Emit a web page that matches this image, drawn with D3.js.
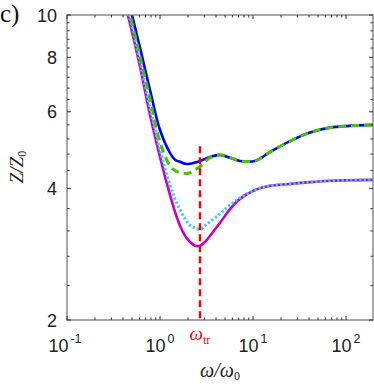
<!DOCTYPE html>
<html>
<head>
<meta charset="utf-8">
<script src="https://cdn.jsdelivr.net/npm/d3@7"></script>
<style>
body { margin: 0; background: #fff; }
svg { display: block; }
</style>
</head>
<body>
<script>
const width = 374, height = 384;

// frequency grid (omega / omega_0), shared by all curves
const omega = [0.45, 0.5, 0.61, 0.78, 1.0, 1.28, 1.45, 1.64, 1.86, 2.1, 2.38, 2.69,
    3.05, 3.45, 4.42, 5.66, 7.25, 10.5, 15.2, 25, 41, 67, 110, 195];

// Z / Z_0
const zBlue = [10.95, 10.0, 8.41, 6.74, 5.45, 4.83, 4.66, 4.61, 4.56, 4.56, 4.59, 4.63,
    4.68, 4.73, 4.78, 4.71, 4.63, 4.63, 4.85, 5.14, 5.38, 5.52, 5.57, 5.60];
const zGreen = [10.5, 9.60, 8.02, 6.43, 5.12, 4.51, 4.40, 4.35, 4.33, 4.35, 4.42, 4.49,
    4.61, 4.71, 4.78, 4.71, 4.63, 4.63, 4.85, 5.14, 5.38, 5.52, 5.57, 5.60];
const zMagenta = [10.0, 9.15, 7.61, 5.91, 4.73, 3.87, 3.54, 3.29, 3.12, 3.02, 2.96, 2.96,
    3.02, 3.12, 3.34, 3.59, 3.79, 3.97, 4.06, 4.10, 4.14, 4.17, 4.18, 4.19];
const zCyan = [10.28, 9.40, 7.81, 6.13, 4.91, 4.08, 3.79, 3.58, 3.41, 3.30, 3.25, 3.23,
    3.29, 3.36, 3.50, 3.67, 3.81, 3.97, 4.06, 4.10, 4.14, 4.17, 4.18, 4.19];

const omegaTr = 2.69;
const trTop = 5.0;

const xDecades = [-1, 0, 1, 2];
const yMajor = [2, 4, 6, 8, 10];

const x = d3.scaleLog().domain([0.1, 195]).range([67, 373]);
const y = d3.scaleLog().domain([2, 10]).range([320, 15]);

const svg = d3.select("body")
    .append("svg")
    .attr("width", width)
    .attr("height", height);

svg.append("clipPath")
    .attr("id", "plot")
    .append("rect")
    .attr("x", 67).attr("y", 15)
    .attr("width", 306).attr("height", 305);

// curves
const line = d3.line()
    .x(d => x(d[0]))
    .y(d => y(d[1]))
    .curve(d3.curveCatmullRom.alpha(0.5));

const series = [
    {z: zMagenta, color: "#c800c8", w: 2.6, dash: null},
    {z: zCyan, color: "#33ccff", w: 3, dash: "2.2,2.2"},
    {z: zBlue, color: "#0000ff", w: 2.6, dash: null},
    {z: zGreen, color: "#44c400", w: 3, dash: "8,5"}
];

const curves = svg.append("g").attr("clip-path", "url(#plot)");

curves.selectAll("path")
    .data(series)
    .enter()
    .append("path")
    .attr("fill", "none")
    .attr("stroke", d => d.color)
    .attr("stroke-width", d => d.w)
    .attr("stroke-dasharray", d => d.dash)
    .attr("d", d => line(omega.map((w, i) => [w, d.z[i]])));

// omega_tr marker
curves.append("line")
    .attr("x1", x(omegaTr)).attr("x2", x(omegaTr))
    .attr("y1", y(trTop)).attr("y2", y(2))
    .attr("stroke", "#ff0000")
    .attr("stroke-width", 2.4)
    .attr("stroke-dasharray", "7,4");

// frame
svg.append("rect")
    .attr("x", 67).attr("y", 15)
    .attr("width", 306).attr("height", 305)
    .attr("fill", "none")
    .attr("stroke", "#8a8a8a")
    .attr("stroke-width", 1.5);

// ticks
const xTicks = [];
xDecades.forEach(e => {
    for (let k = 1; k < 10; k++) {
        const v = k * Math.pow(10, e);
        if (v <= 195) xTicks.push({v: v, major: k === 1});
    }
});
const yTicks = [];
for (let v = 2; v <= 10.001; v += 0.4) {
    const r = Math.round(v * 10) / 10;
    yTicks.push({v: r, major: yMajor.includes(r)});
}

const ticks = svg.append("g").attr("stroke", "#333").attr("stroke-width", 1);
xTicks.forEach(t => {
    const len = t.major ? 4 : 2.5;
    ticks.append("line").attr("x1", x(t.v)).attr("x2", x(t.v)).attr("y1", 320).attr("y2", 320 - len);
    ticks.append("line").attr("x1", x(t.v)).attr("x2", x(t.v)).attr("y1", 15).attr("y2", 15 + len);
});
yTicks.forEach(t => {
    const len = t.major ? 4 : 2.5;
    ticks.append("line").attr("x1", 67).attr("x2", 67 + len).attr("y1", y(t.v)).attr("y2", y(t.v));
    ticks.append("line").attr("x1", 373).attr("x2", 373 - len).attr("y1", y(t.v)).attr("y2", y(t.v));
});

// tick labels
const font = "'Liberation Sans', Arial, Helvetica, sans-serif";
xDecades.forEach(e => {
    const t = svg.append("text")
        .attr("x", x(Math.pow(10, e)) - (e < 0 ? 2 : 0))
        .attr("y", 352)
        .attr("text-anchor", "middle")
        .attr("font-family", font)
        .attr("font-size", 18)
        .attr("fill", "#222");
    t.append("tspan").text("10");
    t.append("tspan").attr("dy", -9).attr("dx", 2).attr("font-size", 12.5).text(String(e));
});

svg.selectAll(".ylab")
    .data(yMajor)
    .enter()
    .append("text")
    .attr("class", "ylab")
    .attr("x", 57)
    .attr("y", d => y(d) + 6.5)
    .attr("text-anchor", "end")
    .attr("font-family", font)
    .attr("font-size", 18)
    .attr("fill", "#222")
    .text(d => d);

// axis labels
const serif = "'Liberation Serif', 'DejaVu Serif', serif";
const xl = svg.append("text")
    .attr("x", 220).attr("y", 377)
    .attr("text-anchor", "middle")
    .attr("font-family", serif)
    .attr("font-size", 20)
    .attr("fill", "#222");
xl.append("tspan").attr("font-style", "italic").text("ω/ω");
xl.append("tspan").attr("dy", 3).attr("font-size", 12).text("0");

const yl = svg.append("text")
    .attr("transform", "translate(23,167) rotate(-90)")
    .attr("text-anchor", "middle")
    .attr("font-family", serif)
    .attr("font-size", 19)
    .attr("fill", "#222");
yl.append("tspan").attr("font-style", "italic").text("Z/Z");
yl.append("tspan").attr("dy", 3).attr("font-size", 12).text("0");

const tr = svg.append("text")
    .attr("x", x(omegaTr)).attr("y", 340)
    .attr("text-anchor", "middle")
    .attr("font-family", serif)
    .attr("font-size", 19)
    .attr("fill", "#ff0000");
tr.append("tspan").attr("font-style", "italic").text("ω");
tr.append("tspan").attr("dy", 4).attr("font-size", 12).text("tr");

svg.append("text")
    .attr("x", 0).attr("y", 22)
    .attr("font-family", serif)
    .attr("font-size", 25)
    .attr("fill", "#111")
    .text("c)");
</script>
</body>
</html>
